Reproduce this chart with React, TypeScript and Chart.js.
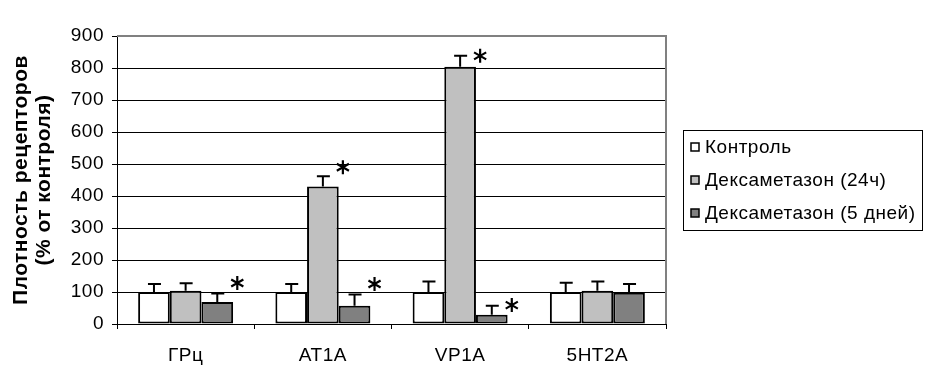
import React, { useEffect, useRef } from 'react';
import { Chart, registerables } from 'chart.js';

Chart.register(...registerables);

const categories = ['ГРц', 'AT1A', 'VP1A', '5HT2A'];
const seriesLabels = ['Контроль', 'Дексаметазон (24ч)', 'Дексаметазон (5 дней)'];
const seriesColors = ['#FFFFFF', '#C0C0C0', '#808080'];

const control = [100, 100, 100, 100];
const dex24h = [104, 430, 804, 104];
const dex5d = [69, 57, 29, 98];

const controlErr = [25, 25, 33, 29];
const dex24hErr = [23, 32, 34, 29];
const dex5dErr = [26, 35, 28, 27];

// asterisk levels (data units), null = no asterisk
const controlStar = [null, null, null, null];
const dex24hStar = [null, 490, 838, null];
const dex5dStar = [128, 125, 59, null];

const yTicks = [0, 100, 200, 300, 400, 500, 600, 700, 800, 900];
const yTitle = ['Плотность рецепторов', '(% от контроля)'];

const FONT = "'Liberation Sans', Arial, sans-serif";

const overlay = {
  id: 'overlay',
  beforeDraw(chart: any) {
    chart.ctx.letterSpacing = '0.5px';
  },
  afterDatasetsDraw(chart: any) {
    const ctx = chart.ctx;
    const y = chart.scales.y;
    const area = chart.chartArea;
    ctx.save();
    ctx.strokeStyle = '#808080';
    ctx.lineWidth = 2;
    ctx.beginPath();
    ctx.moveTo(area.left, area.top);
    ctx.lineTo(area.right, area.top);
    ctx.lineTo(area.right, area.bottom);
    ctx.stroke();

    chart.data.datasets.forEach((ds: any, di: number) => {
      const meta = chart.getDatasetMeta(di);
      meta.data.forEach((bar: any, i: number) => {
        const v = ds.data[i];
        const top = y.getPixelForValue(v + ds.errors[i]);
        ctx.strokeStyle = '#000';
        ctx.lineWidth = 2;
        ctx.beginPath();
        ctx.moveTo(bar.x, bar.y);
        ctx.lineTo(bar.x, top);
        ctx.moveTo(bar.x - 6, top);
        ctx.lineTo(bar.x + 7, top);
        ctx.stroke();
        const s = ds.stars[i];
        if (s !== null && s !== undefined) {
          const cx = bar.x + 20;
          const cy = y.getPixelForValue(s);
          const r = 7;
          ctx.lineWidth = 2.2;
          ctx.beginPath();
          for (let k = 0; k < 3; k++) {
            const a = Math.PI / 2 + (k * Math.PI) / 3;
            ctx.moveTo(cx - r * Math.cos(a), cy - r * Math.sin(a));
            ctx.lineTo(cx + r * Math.cos(a), cy + r * Math.sin(a));
          }
          ctx.stroke();
        }
      });
    });
    ctx.restore();
  },
  afterDraw(chart: any) {
    const ctx = chart.ctx;
    ctx.save();
    const lx = 683, ly = 130, lw = 239, lh = 100;
    ctx.strokeStyle = '#000';
    ctx.lineWidth = 1;
    ctx.strokeRect(lx + 0.5, ly + 0.5, lw, lh);
    ctx.font = `19px ${FONT}`;
    ctx.letterSpacing = '0.5px';
    ctx.textBaseline = 'middle';
    ctx.textAlign = 'left';
    chart.data.datasets.forEach((ds: any, i: number) => {
      const cy = ly + 17 + i * 33;
      ctx.fillStyle = ds.backgroundColor;
      ctx.fillRect(691, cy - 4, 8, 8);
      ctx.strokeStyle = '#000';
      ctx.lineWidth = 1.5;
      ctx.strokeRect(691, cy - 4, 8, 8);
      ctx.fillStyle = '#000';
      ctx.fillText(ds.label, 705, cy + 1);
    });
    ctx.restore();
  },
};

export default function App() {
  const ref = useRef<HTMLCanvasElement | null>(null);

  useEffect(() => {
    document.body.style.margin = '0';
    const canvas = ref.current;
    if (!canvas) return;
    Chart.defaults.font.family = FONT;
    Chart.defaults.color = '#000';

    const values = [control, dex24h, dex5d];
    const errs = [controlErr, dex24hErr, dex5dErr];
    const stars = [controlStar, dex24hStar, dex5dStar];

    const chart = new Chart(canvas, {
      type: 'bar',
      data: {
        labels: categories,
        datasets: seriesLabels.map((label, i) => ({
          label,
          data: values[i],
          errors: errs[i],
          stars: stars[i],
          backgroundColor: seriesColors[i],
          borderColor: '#000',
          borderWidth: 2,
          borderSkipped: false,
          categoryPercentage: 0.692,
          barPercentage: 1,
        })) as any,
      },
      options: {
        responsive: false,
        animation: false,
        devicePixelRatio: 1,
        layout: { padding: { left: 0, top: 36, right: 260, bottom: 0 } },
        plugins: { legend: { display: false }, tooltip: { enabled: false } },
        scales: {
          x: {
            grid: {
              display: true,
              drawOnChartArea: false,
              drawTicks: true,
              tickLength: 5,
              tickColor: '#000',
              offset: true,
            },
            border: { color: '#000', width: 1 },
            ticks: { font: { size: 19 }, color: '#000', padding: 15, maxRotation: 0 },
            afterFit: (s: any) => {
              s.height = 51;
            },
          },
          y: {
            min: 0,
            max: 900,
            afterBuildTicks: (s: any) => {
              s.ticks = yTicks.map((v) => ({ value: v }));
            },
            ticks: { font: { size: 19 }, color: '#000', padding: 8 },
            grid: {
              color: (c: any) => (c.tick && c.tick.value === 900 ? 'rgba(0,0,0,0)' : '#000'),
              lineWidth: 1,
              tickLength: 5,
              tickColor: '#000',
            },
            border: { color: '#000', width: 1 },
            title: {
              display: true,
              text: yTitle,
              color: '#000',
              font: { size: 21, weight: 'bold', lineHeight: 1.1 },
              padding: { top: 10, bottom: 0 },
            },
            afterFit: (s: any) => {
              s.width = 117;
            },
          },
        },
      },
      plugins: [overlay],
    } as any);

    return () => chart.destroy();
  }, []);

  return (
    <div style={{ width: 926, height: 375 }}>
      <canvas ref={ref} width={926} height={375} style={{ display: 'block' }} />
    </div>
  );
}
